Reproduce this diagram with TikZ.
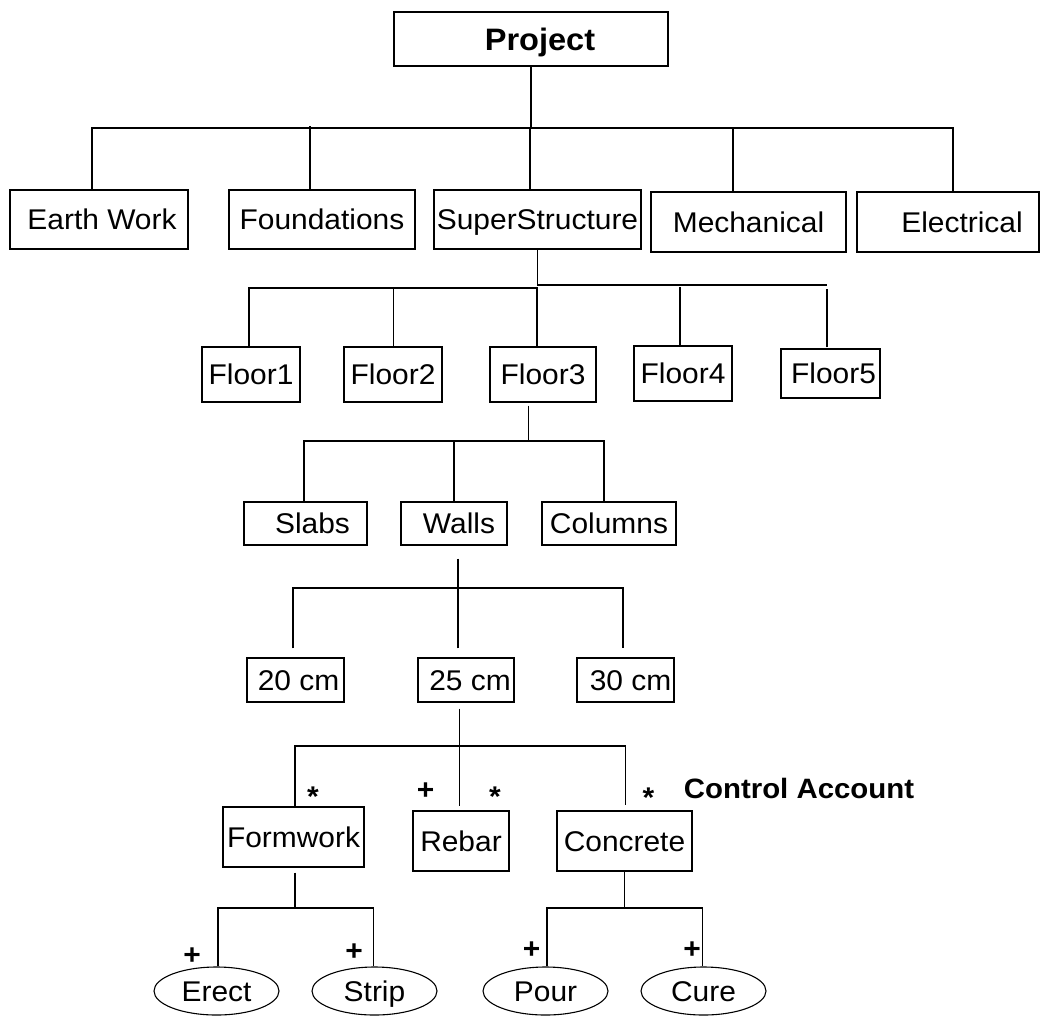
\documentclass[tikz,border=0pt]{standalone}
\usepackage{fontspec}
\setmainfont{Liberation Sans}
\newfontfamily\afont{Liberation Sans}[FakeStretch=1.05]
\usetikzlibrary{shapes.geometric}
\begin{document}
\begin{tikzpicture}[x=1pt,y=-1pt,
  box/.style={draw, line width=1.1pt, inner sep=0pt, anchor=center},
  oval/.style={draw, ellipse, line width=1.1pt, inner sep=0pt, minimum width=125pt, minimum height=48pt},
  txt/.style={font={\afont\fontsize{28.5}{33}\selectfont}, text height=20.4pt, text depth=0pt},
  projf/.style={font={\afont\bfseries\fontsize{31}{36}\selectfont}, text height=22.2pt, text depth=0pt},
  sign/.style={font={\afont\bfseries\fontsize{28.5}{33}\selectfont}, anchor=base, inner sep=0pt},
  ctrl/.style={font={\afont\bfseries\fontsize{28}{33}\selectfont}, inner sep=0pt},
  conn/.style={line width=1.1pt}]
\useasboundingbox (0,0) rectangle (1040,1023);
% bus coordinates
\coordinate (h1) at (0,128);
\coordinate (h2a) at (0,285);
\coordinate (h2b) at (0,288);
\coordinate (h3) at (0,441);
\coordinate (h4) at (0,588);
\coordinate (h5) at (0,746);
\coordinate (h6) at (0,908);
% level 0
\node[box, projf, minimum width=274pt, minimum height=54pt] (project) at (531,39) {\hspace*{18pt}Project};
% level 1
\node[box, txt, minimum width=178pt, minimum height=59pt] (earth) at (99,219.5) {\hspace*{6pt}Earth Work};
\node[box, txt, minimum width=186pt, minimum height=59pt] (found) at (322,219.5) {Foundations};
\node[box, txt, minimum width=207pt, minimum height=59pt] (super) at (537.5,219.5) {SuperStructure};
\node[box, txt, minimum width=195pt, minimum height=60pt] (mech) at (748.5,222) {Mechanical};
\node[box, txt, minimum width=182pt, minimum height=60pt] (elec) at (948,222) {\hspace*{28pt}Electrical};
% level 2
\node[box, txt, minimum width=98pt, minimum height=55pt] (floor1) at (251,374.5) {Floor1};
\node[box, txt, minimum width=98pt, minimum height=55pt] (floor2) at (393,374.5) {Floor2};
\node[box, txt, minimum width=106pt, minimum height=55pt] (floor3) at (543,374.5) {Floor3};
\node[box, txt, minimum width=98pt, minimum height=55pt] (floor4) at (683,373.5) {Floor4};
\node[box, txt, minimum width=99pt, minimum height=49pt] (floor5) at (830.5,373.5) {\hspace*{6pt}Floor5};
% level 3
\node[box, txt, minimum width=123pt, minimum height=43pt] (slabs) at (305.5,523.5) {\hspace*{14pt}Slabs};
\node[box, txt, minimum width=106pt, minimum height=43pt] (walls) at (454,523.5) {\hspace*{10pt}Walls};
\node[box, txt, minimum width=134pt, minimum height=43pt] (columns) at (609,523.5) {Columns};
% level 4
\node[box, txt, minimum width=97pt, minimum height=44pt] (cm20) at (295.5,680) {\hspace*{6pt}20 cm};
\node[box, txt, minimum width=96pt, minimum height=44pt] (cm25) at (466,680) {\hspace*{8pt}25 cm};
\node[box, txt, minimum width=97pt, minimum height=44pt] (cm30) at (625.5,680) {\hspace*{10pt}30 cm};
% level 5
\node[box, txt, minimum width=141pt, minimum height=60pt] (formwork) at (293.5,837) {Formwork};
\node[box, txt, minimum width=96pt, minimum height=60pt] (rebar) at (461,841) {Rebar};
\node[box, txt, minimum width=135pt, minimum height=60pt] (concrete) at (624.5,841) {Concrete};
% level 6
\node[oval, txt] (erect) at (216.5,991) {Erect};
\node[oval, txt] (strip) at (374.5,991) {Strip};
\node[oval, txt] (pour) at (545.5,991) {Pour};
\node[oval, txt] (cure) at (703.5,991) {Cure};
% markers
\node[sign] (st1) at (313,806) {*};
\node[sign] (st2) at (495,806) {*};
\node[sign] (st3) at (648.5,807) {*};
\node[sign] (pl1) at (425.5,799) {+};
\node[sign] (pl2) at (192,964) {+};
\node[sign] (pl3) at (354,960) {+};
\node[sign] (pl4) at (531.6,958) {+};
\node[sign] (pl5) at (692,958) {+};
\node[ctrl] (ca) at (799,788) {Control Account};
% connectors level 1
\draw[conn] (project.south) -- (project.south |- h1);
\draw[conn] ([xshift=-7pt]earth.north) |- ([xshift=5pt]elec.north |- h1) -- ([xshift=5pt]elec.north);
\draw[conn] ([xshift=-12pt]found.north) -- ([xshift=-12pt,yshift=2pt]found.north |- h1);
\draw[conn] ([xshift=-7.5pt]super.north) -- ([xshift=-7.5pt]super.north |- h1);
\draw[conn] ([xshift=-15.5pt]mech.north) -- ([xshift=-15.5pt]mech.north |- h1);
% level 2
\draw[conn] (super.south) -- (super.south |- h2a) -- ([xshift=-3.5pt]floor5.north |- h2a);
\draw[conn] ([xshift=-3.5pt,yshift=1pt]floor5.north) -- ([xshift=-3.5pt,yshift=-4pt]floor5.north |- h2a);
\draw[conn] ([xshift=-3pt]floor4.north) -- ([xshift=-3pt,yshift=-2pt]floor4.north |- h2a);
\draw[conn] ([xshift=-2pt]floor1.north) |- ([xshift=-6pt]floor3.north |- h2b) -- ([xshift=-6pt]floor3.north);
\draw[conn] ([xshift=0.5pt]floor2.north) -- ([xshift=0.5pt]floor2.north |- h2b);
% level 3
\draw[conn] ([xshift=-14.5pt,yshift=-3pt]floor3.south) -- ([xshift=-14.5pt]floor3.south |- h3);
\draw[conn] ([xshift=-1.5pt]slabs.north) |- ([xshift=-5pt]columns.north |- h3) -- ([xshift=-5pt]columns.north);
\draw[conn] (walls.north) -- (walls.north |- h3);
% level 4
\draw[conn] ([xshift=4pt,yshift=-13pt]walls.south) -- ([xshift=4pt]walls.south |- h4);
\draw[conn] ([xshift=-2.5pt,yshift=9pt]cm20.north) |- ([xshift=-2.5pt]cm30.north |- h4) -- ([xshift=-2.5pt,yshift=9pt]cm30.north);
\draw[conn] ([xshift=-8pt,yshift=9pt]cm25.north) -- ([xshift=-8pt]cm25.north |- h4);
% level 5
\draw[conn] ([xshift=-6.5pt,yshift=-6pt]cm25.south) -- ([xshift=-1.5pt,yshift=4pt]rebar.north);
\draw[conn] ([xshift=1.5pt]formwork.north) |- ([xshift=1pt]concrete.north |- h5) -- ([xshift=1pt,yshift=5pt]concrete.north);
% level 6
\draw[conn] ([xshift=1.5pt,yshift=-5pt]formwork.south) -- ([xshift=1.5pt]formwork.south |- h6);
\draw[conn] ([xshift=1.5pt]erect.north) |- ([xshift=-1pt]strip.north |- h6) -- ([xshift=-1pt]strip.north);
\draw[conn] (concrete.south) -- (concrete.south |- h6);
\draw[conn] ([xshift=1.5pt]pour.north) |- ([xshift=-1pt]cure.north |- h6) -- ([xshift=-1pt]cure.north);
\end{tikzpicture}
\end{document}
